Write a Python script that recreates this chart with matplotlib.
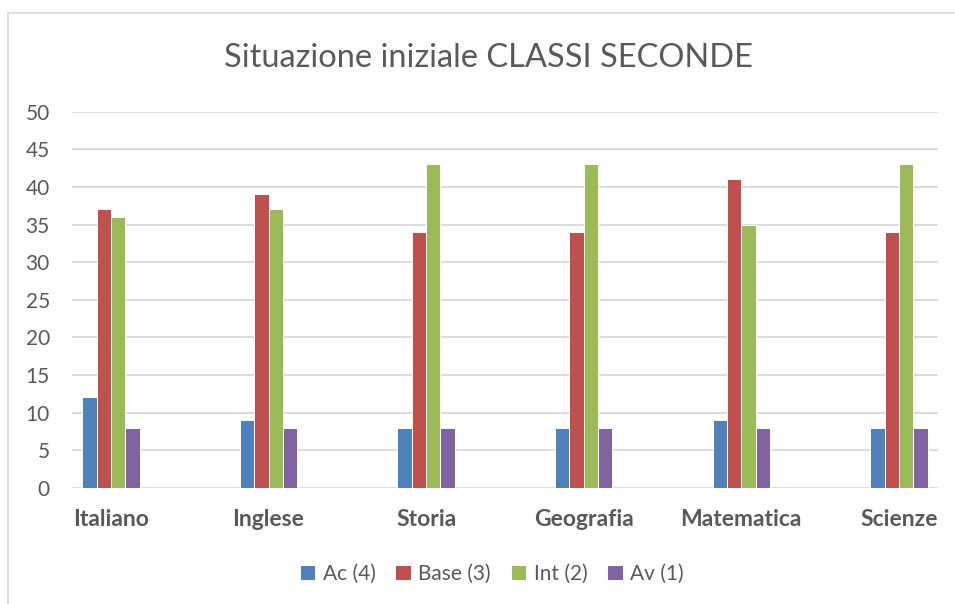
import matplotlib
matplotlib.use('Agg')
import matplotlib.pyplot as plt
from matplotlib.lines import Line2D
import numpy as np

# chart data
subjects = ['Italiano', 'Inglese', 'Storia', 'Geografia', 'Matematica', 'Scienze']
series_names = ['Ac (4)', 'Base (3)', 'Int (2)', 'Av (1)']
ac = [12, 9, 8, 8, 9, 8]
base = [37, 39, 34, 34, 41, 34]
intermedio = [36, 37, 43, 43, 35, 43]
avanzato = [8, 8, 8, 8, 8, 8]
colors = ['#4F81BD', '#C0504D', '#9BBB59', '#8064A2']
yticks = [0, 5, 10, 15, 20, 25, 30, 35, 40, 45, 50]

plt.rcParams['font.family'] = ['Lato', 'DejaVu Sans']
text_color = '#595959'

fig = plt.figure(figsize=(9.55, 6.04), dpi=100)
ax = fig.add_axes([0.0754, 0.1925, 0.9066, 0.6225])

x = np.arange(len(subjects))
w = 0.091
values = [ac, base, intermedio, avanzato]
for i, (name, vals) in enumerate(zip(series_names, values)):
    ax.bar(x + (i - 1.5) * w, vals, width=w, color=colors[i], label=name,
           edgecolor='white', linewidth=0.7, zorder=3)

ax.set_xlim(-0.247, 5.247)
ax.set_ylim(0, 50)
ax.set_yticks(yticks)
ax.set_xticks(x)
ax.set_xticklabels(subjects, fontweight='bold')
ax.tick_params(axis='y', length=0, pad=16, labelsize=15, labelcolor=text_color)
ax.tick_params(axis='x', length=0, pad=15, labelsize=16.5, labelcolor=text_color)
ax.grid(axis='y', color='#D9D9D9', linewidth=1.3, zorder=0)
ax.set_axisbelow(True)
for s in ax.spines.values():
    s.set_visible(False)

# title
fig.text(0.511, 0.904, 'Situazione iniziale CLASSI SECONDE', ha='center', va='center',
         fontsize=23.5, color=text_color)

# legend
fig.legend(loc='center', bbox_to_anchor=(0.515, 0.05), ncol=4, frameon=False,
           fontsize=15, handlelength=0.75, handleheight=0.75, handletextpad=0.35,
           columnspacing=0.95, labelcolor=text_color)

# chart frame (top and left edges)
fig.add_artist(Line2D([8 / 955, 1.0], [1 - 13 / 604, 1 - 13 / 604], color='#D9D9D9',
                      linewidth=1.2, transform=fig.transFigure))
fig.add_artist(Line2D([8 / 955, 8 / 955], [0.0, 1 - 13 / 604], color='#D9D9D9',
                      linewidth=1.2, transform=fig.transFigure))

fig.savefig('out.png', dpi=100)
